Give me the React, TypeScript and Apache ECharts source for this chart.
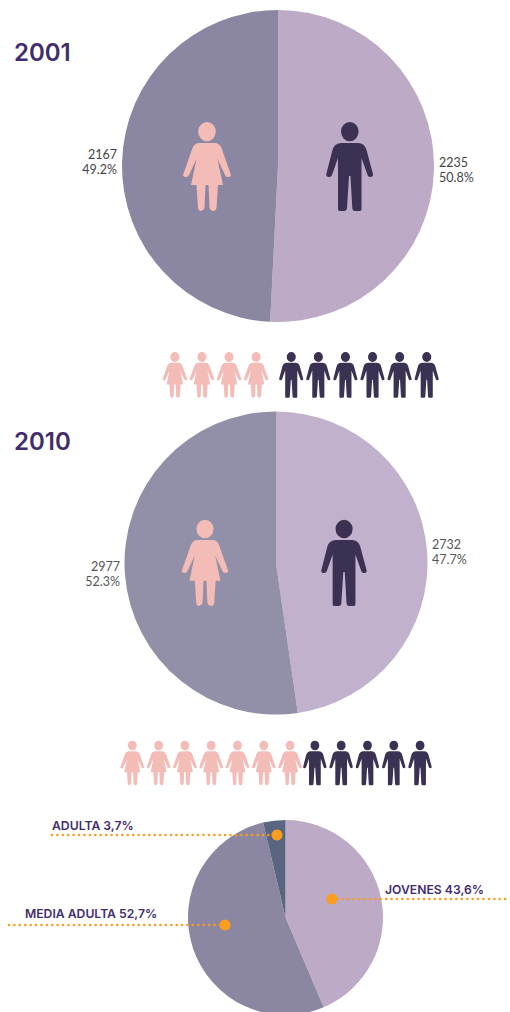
import React, { useEffect, useRef } from "react";
import * as echarts from "echarts";

const genderNames = ["Hombres", "Mujeres"];
const counts2001 = [2235, 2167];
const percents2001 = [50.8, 49.2];
const counts2010 = [2732, 2977];
const percents2010 = [47.7, 52.3];
const ageNames = ["JOVENES", "MEDIA ADULTA", "ADULTA"];
const ageValues = [43.6, 52.7, 3.7];
const women2001 = 4;
const men2001 = 6;
const women2010 = 7;
const men2010 = 5;

const WOMAN =
  "M15.2 9.6a8.8 9.6 0 1 0 17.6 0a8.8 9.6 0 1 0 -17.6 0Z M16.5 21L31.5 21Q36.5 21 38.5 26L48 53Q48 55 44.5 55Q43 55 42 53L34.5 37L40 63L35 63L33.5 86Q33 89 30 89Q27 88.5 26.5 86L25.5 63L22.5 63L21.5 86Q21 88 18 89Q15.5 89 15 86L13.5 63L8 63L13.5 37L6 53Q5 55 3.5 55Q0 55 0 53L9.5 26Q11.5 21 16.5 21Z";
const MAN =
  "M15 9.6a8.8 9.6 0 1 0 17.6 0a8.8 9.6 0 1 0 -17.6 0Z M15.5 21L32 21Q38.5 21 40.5 28L47 52Q47.5 55 44 55Q42 55 41.5 53L35.5 36L35.5 87Q35.5 89 34 89L29 89Q26.5 89 26.3 86L24.5 54L23 54L21 86Q20.8 89 18 89L13.5 89Q12 89 12 87L12 36L6 53Q5.5 55 3 55Q0 55 0.3 52L6.5 28Q8.5 21 15.5 21Z";

echarts.graphic.registerShape("woman", echarts.graphic.extendPath(WOMAN, {}) as any);
echarts.graphic.registerShape("man", echarts.graphic.extendPath(MAN, {}) as any);

export default function App() {
  const ref = useRef<HTMLDivElement>(null);
  useEffect(() => {
    document.body.style.margin = "0";
    const chart = echarts.init(ref.current!, undefined, { renderer: "svg" });
    const WOMAN_C = "#f3bcb7";
    const MAN_C = "#3a3153";
    const INK = "#3f2d6d";
    const ORANGE = "#f99d1c";
    const icon = (type: string, x: number, y: number, s: number, fill: string) => ({
      type, x, y, scaleX: s, scaleY: s, z: 10, style: { fill },
    });
    const row = (count: number, type: string, x0: number, step: number, y: number, s: number, fill: string) =>
      Array.from({ length: count }, (_, i) => icon(type, x0 + i * step, y, s, fill));
    const callout = (text: string, tx: number, ty: number, x1: number, x2: number, y: number, dotX: number) => [
      { type: "text", x: tx, y: ty, z: 20, style: { text, fill: INK, font: "600 12.2px Inter", textVerticalAlign: "middle" } },
      { type: "line", shape: { x1, y1: y, x2, y2: y }, z: 20, style: { stroke: ORANGE, lineWidth: 2.6, lineDash: [0.01, 5.4], lineCap: "round" } },
      { type: "circle", shape: { cx: dotX, cy: y, r: 5.5 }, z: 21, style: { fill: ORANGE } },
    ];
    const genderPie = (counts: number[], percents: number[], center: number[], r: number, colors: string[], labelColor: string) => ({
      type: "pie",
      center,
      radius: [0, r],
      startAngle: 90,
      clockwise: true,
      silent: true,
      data: genderNames.map((name, i) => ({ name, value: percents[i], itemStyle: { color: colors[i] } })),
      label: {
        show: true,
        position: "outer",
        alignTo: "none",
        formatter: (p: any) => `${counts[p.dataIndex]}\n${percents[p.dataIndex].toFixed(1)}%`,
        color: labelColor,
        fontFamily: "Lato",
        fontSize: 12.5,
        lineHeight: 15,
        align: "center",
      },
      labelLine: { show: false, length: 0, length2: 0 },
      emphasis: { disabled: true },
    });
    chart.setOption({
      animation: false,
      title: [
        { text: "2001", left: 14, top: 40, padding: 0, textStyle: { color: INK, fontFamily: "Inter", fontWeight: 600, fontSize: 24 } },
        { text: "2010", left: 14, top: 429, padding: 0, textStyle: { color: INK, fontFamily: "Inter", fontWeight: 600, fontSize: 24 } },
      ],
      series: [
        genderPie(counts2001, percents2001, [278, 166], 156, ["#bdaac6", "#8b86a1"], "#444"),
        genderPie(counts2010, percents2010, [276, 563], 151.5, ["#c2b1cc", "#9190a8"], "#555"),
        {
          type: "pie",
          center: [285.5, 917.5],
          radius: [0, 97.5],
          startAngle: 90,
          silent: true,
          label: { show: false },
          labelLine: { show: false },
          emphasis: { disabled: true },
          data: ageNames.map((name, i) => ({
            name,
            value: ageValues[i],
            itemStyle: { color: ["#bdaac6", "#8b86a1", "#5a6680"][i] },
          })),
        },
      ],
      graphic: [
        icon("woman", 183, 122, 1, WOMAN_C),
        icon("man", 326, 122, 1, MAN_C),
        icon("woman", 181.7, 519.7, 0.97, WOMAN_C),
        icon("man", 321, 519.7, 0.97, MAN_C),
        ...row(women2001, "woman", 162.5, 27.1, 352, 0.515, WOMAN_C),
        ...row(men2001, "man", 279, 27.1, 352, 0.515, MAN_C),
        ...row(women2010, "woman", 120.3, 26.3, 740.7, 0.5, WOMAN_C),
        ...row(men2010, "man", 303, 26.3, 740.7, 0.5, MAN_C),
        ...callout(`ADULTA ${String(ageValues[2]).replace(".", ",")}%`, 52, 825, 52, 277, 835, 277),
        ...callout(`JOVENES ${String(ageValues[0]).replace(".", ",")}%`, 385, 889, 332, 508, 899, 332),
        ...callout(`MEDIA ADULTA ${String(ageValues[1]).replace(".", ",")}%`, 25, 913, 9, 225, 925, 225),
      ],
    });
    return () => chart.dispose();
  }, []);
  return <div ref={ref} style={{ width: 510, height: 1012 }} />;
}
